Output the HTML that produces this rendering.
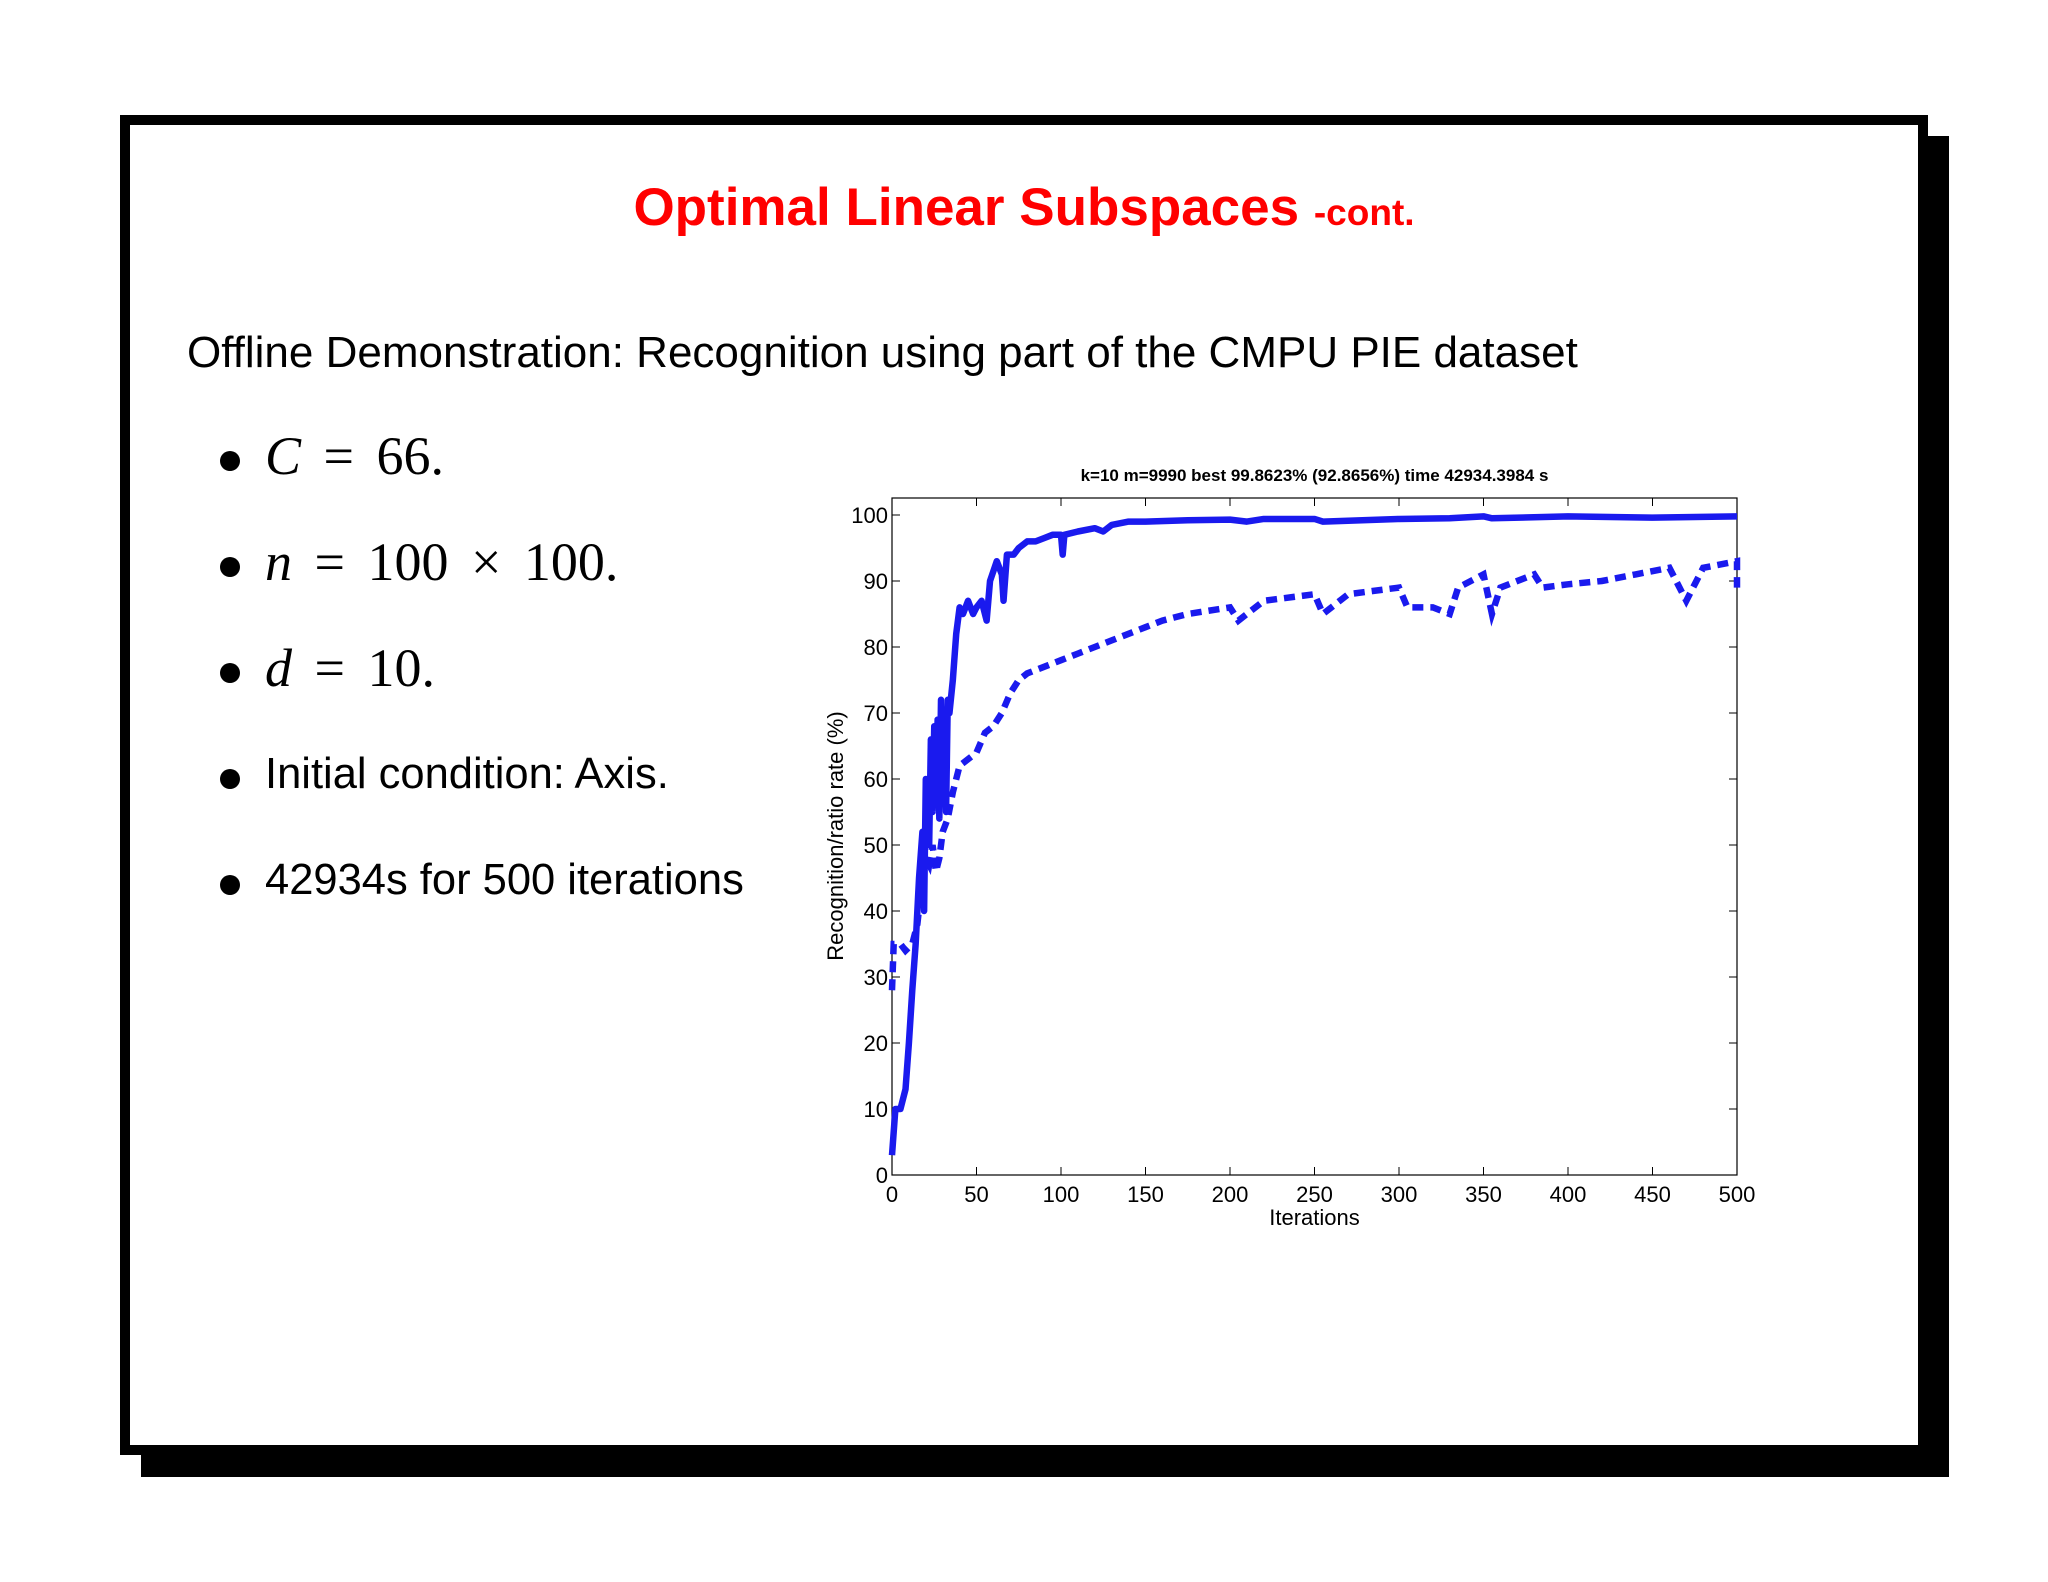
<!DOCTYPE html>
<html><head><meta charset="utf-8"><style>
body{margin:0;width:2048px;height:1582px;background:#fff;position:relative;overflow:hidden;font-family:"Liberation Sans",sans-serif}
.abs{position:absolute}
.dot{position:absolute;width:20px;height:20px;border-radius:50%;background:#000;left:220px}
.btxt{position:absolute;left:265px;white-space:nowrap}
.m{font-family:'Liberation Serif',serif;font-size:54px;word-spacing:9px}
</style></head><body>
<div class="abs" style="left:141px;top:136px;width:1808px;height:1341px;background:#000"></div>
<div class="abs" style="left:120px;top:115px;width:1788px;height:1320px;background:#fff;border:10px solid #000"></div>
<div class="abs" style="left:0;width:2048px;top:177px;text-align:center;color:#f00;font-weight:bold;font-size:53px">Optimal Linear Subspaces <span style="font-size:37px">-cont.</span></div>
<div class="abs" style="left:187px;top:328px;font-size:44px">Offline Demonstration: Recognition using part of the CMPU PIE dataset</div>
<div>
<div class="dot" style="top:451px"></div>
<div class="btxt m" style="top:425px"><i>C</i> = 66.</div>
<div class="dot" style="top:557px"></div>
<div class="btxt m" style="top:531px"><i>n</i> = 100 × 100.</div>
<div class="dot" style="top:663px"></div>
<div class="btxt m" style="top:637px"><i>d</i> = 10.</div>
<div class="dot" style="top:769px"></div>
<div class="btxt" style="top:750px;font-size:43.5px">Initial condition: Axis.</div>
<div class="dot" style="top:875px"></div>
<div class="btxt" style="top:856px;font-size:43.5px">42934s for 500 iterations</div>
</div>
<svg class="abs" style="left:0;top:0" width="2048" height="1582" id="chart"></svg>
<script>
const xTicks=[0,50,100,150,200,250,300,350,400,450,500];
const yTicks=[0,10,20,30,40,50,60,70,80,90,100];
const solidIter=[0,2,5,8,10,12,14,16,18,19,20,22,23,24,25,26,27,28,29,30,31,32,33,34,36,38,40,42,45,48,50,53,56,58,62,65,66,68,72,75,80,85,90,95,100,101,102,110,120,125,130,140,150,175,200,210,220,250,255,300,330,350,355,400,450,500];
const solidVal=[3,10,10,13,20,28,35,45,52,40,60,50,66,55,68,60,69,54,72,60,70,55,72,70,75,82,86,85,87,85,86,87,84,90,93,91,87,94,94,95,96,96,96.5,97,97,94,97,97.5,98,97.5,98.5,99,99,99.2,99.3,99,99.4,99.4,99,99.4,99.5,99.8,99.5,99.8,99.6,99.8];
const dashIter=[0,1,5,8,12,15,18,20,22,24,26,28,30,33,36,40,45,50,55,60,65,70,75,80,90,100,110,120,130,140,150,160,175,200,205,210,220,250,255,270,300,305,320,330,335,350,355,360,380,385,400,420,440,460,470,480,500,500];
const dashVal=[28,35,35,34,35,38,45,48,47,50,46,48,52,54,58,62,63,64,67,68,70,73,75,76,77,78,79,80,81,82,83,84,85,86,84,85,87,88,85,88,89,86,86,85,89,91,85,89,91,89,89.5,90,91,92,87,92,93,89];
const svg=document.getElementById('chart');
const NS='http://www.w3.org/2000/svg';
const L=892,R=1737,T=498,B=1175;
const sx=v=>L+(R-L)*v/500, sy=v=>B-(B-515)*v/100;
function mk(t,a){const e=document.createElementNS(NS,t);for(const k in a)e.setAttribute(k,a[k]);svg.appendChild(e);return e;}
const box=mk('rect',{x:L,y:T,width:R-L,height:B-T,fill:'none',stroke:'#000','stroke-width':1.2});


xTicks.forEach(v=>{
 const x=sx(v);
 const t1=mk('line',{x1:x,x2:x,y1:B,y2:B-8,stroke:'#000'});
 
 
 const t2=mk('line',{x1:x,x2:x,y1:T,y2:T+8,stroke:'#000'});
 
 
 const tx=mk('text',{x:x,y:B+27,'text-anchor':'middle','font-size':22,'font-family':'Liberation Sans, sans-serif'});
 tx.textContent=v;
 
 
});
yTicks.forEach(v=>{
 const y=sy(v);
 const t1=mk('line',{x1:L,x2:L+8,y1:y,y2:y,stroke:'#000'});
 
 
 const t2=mk('line',{x1:R,x2:R-8,y1:y,y2:y,stroke:'#000'});
 
 
 const tx=mk('text',{x:L-4,y:y+8,'text-anchor':'end','font-size':22,'font-family':'Liberation Sans, sans-serif'});
 tx.textContent=v;
 
 
});
function pts(xs,ys){return xs.map((x,i)=>sx(x)+','+sy(ys[i])).join(' ');}
const d=mk('polyline',{points:pts(dashIter,dashVal),fill:'none',stroke:'#1a1aee','stroke-width':6.5,'stroke-dasharray':'11 7'});


const s=mk('polyline',{points:pts(solidIter,solidVal),fill:'none',stroke:'#1a1aee','stroke-width':6.5,'stroke-linejoin':'round'});


const ti=mk('text',{x:(L+R)/2,y:481,'text-anchor':'middle','font-size':17,'font-weight':'bold','font-family':'Liberation Sans, sans-serif'});
ti.textContent='k=10 m=9990 best 99.8623% (92.8656%) time 42934.3984 s';


const xl=mk('text',{x:(L+R)/2,y:1225,'text-anchor':'middle','font-size':22,'font-family':'Liberation Sans, sans-serif'});
xl.textContent='Iterations';


const yl=mk('text',{x:0,y:0,'text-anchor':'middle','font-size':22,'font-family':'Liberation Sans, sans-serif',transform:'translate(843,836) rotate(-90)'});
yl.textContent='Recognition/ratio rate (%)';


</script>
</body></html>
